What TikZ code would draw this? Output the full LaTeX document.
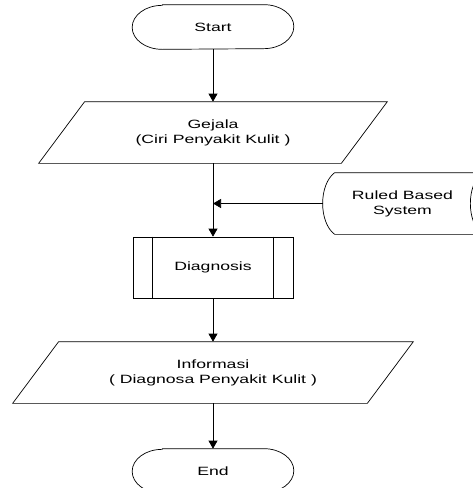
\documentclass[tikz,border=0pt]{standalone}
\usepackage{fontspec}
\setmainfont[FakeStretch=1.47]{Liberation Sans}
\usetikzlibrary{arrows.meta,calc}

\begin{document}
\begin{tikzpicture}[x=1pt,y=1pt,line width=0.7pt,>={Triangle[length=8pt,width=9pt]},
    txt/.style={draw=none,inner sep=0pt,align=center,font=\fontsize{12}{15}\selectfont}]

    \useasboundingbox (0,0) rectangle (473,-488);

    % terminal outline round a node
    \newcommand{\termframe}[1]{%
      \draw ([xshift=30pt]#1.north west) -- ([xshift=-30pt]#1.north east)
        arc[start angle=90, end angle=-90, x radius=30pt, y radius=22pt]
        -- ([xshift=30pt]#1.south west)
        arc[start angle=270, end angle=90, x radius=30pt, y radius=22pt] -- cycle;}

    \node[txt,minimum width=161pt,minimum height=44pt] (start) at (213,-27) {Start};
    \termframe{start}

    \node[txt,minimum width=348pt,minimum height=61pt] (gej) at (213,-132.5) {Gejala\\(Ciri Penyakit Kulit )};
    \draw ([xshift=46pt]gej.north west) -- (gej.north east) -- ([xshift=-46pt]gej.south east) -- (gej.south west) -- cycle;

    \node[txt,minimum width=159pt,minimum height=61pt] (rbs) at (402.5,-203.5) {Ruled Based\\System};
    \draw ([xshift=12pt]rbs.south west) .. controls ([xshift=-4pt,yshift=12pt]rbs.south west) and ([xshift=-4pt,yshift=-12pt]rbs.north west) .. ([xshift=12pt]rbs.north west)
      -- (rbs.north east) .. controls ([xshift=-16pt,yshift=-12pt]rbs.north east) and ([xshift=-16pt,yshift=12pt]rbs.south east) .. (rbs.south east)
      -- cycle;

    \node[txt,draw,minimum width=160pt,minimum height=61pt] (diag) at (213,-267.5) {Diagnosis};
    \draw ([xshift=20pt]diag.north west) -- ([xshift=20pt]diag.south west);
    \draw ([xshift=-20pt]diag.north east) -- ([xshift=-20pt]diag.south east);

    \node[txt,minimum width=400pt,minimum height=61pt] (info) at (213,-372.5) {Informasi\\( Diagnosa Penyakit Kulit )};
    \draw ([xshift=46pt]info.north west) -- (info.north east) -- ([xshift=-46pt]info.south east) -- (info.south west) -- cycle;

    \node[txt,minimum width=161pt,minimum height=44pt] (end) at (213,-471) {End};
    \termframe{end}

    \coordinate (rbsin) at (gej.south |- rbs.west);

    \draw[->] (start) -- (gej);
    \draw[->] (gej) -- (diag);
    \draw[->] (rbs.west) -- (rbsin);
    \draw[->] (diag) -- (info);
    \draw[->] (info) -- (end);
\end{tikzpicture}
\end{document}
